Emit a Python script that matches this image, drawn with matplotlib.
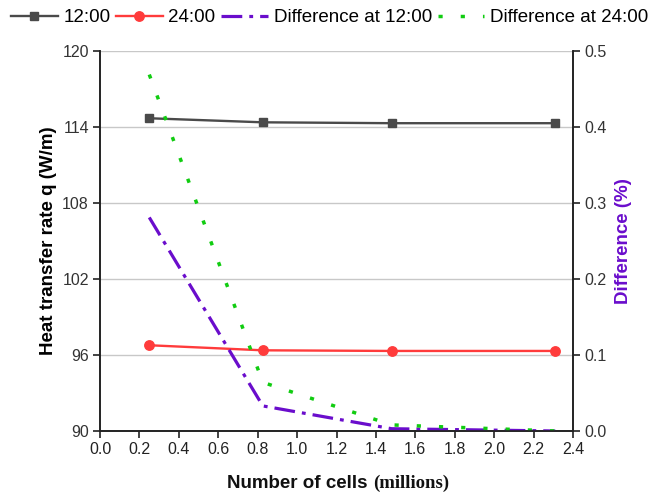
import matplotlib
matplotlib.use("Agg")
import matplotlib.pyplot as plt

plt.rcParams['font.family'] = ['Liberation Sans', 'DejaVu Sans']

cells = [0.25, 0.826, 1.48, 2.31]
q_1200 = [114.69, 114.37, 114.3, 114.3]
q_2400 = [96.77, 96.37, 96.32, 96.32]
diff_1200 = [0.281, 0.033, 0.003, 0.0]
diff_2400 = [0.469, 0.064, 0.008, 0.0]

xticks = [0.0, 0.2, 0.4, 0.6, 0.8, 1.0, 1.2, 1.4, 1.6, 1.8, 2.0, 2.2, 2.4]
yticks = [90, 96, 102, 108, 114, 120]
y2ticks = [0.0, 0.1, 0.2, 0.3, 0.4, 0.5]

c_gray = '#4a4a4a'
c_red = '#ff3b3b'
c_purple = '#6a0dcc'
c_green = '#11cc11'

fig = plt.figure(figsize=(6.59, 4.92), dpi=100)
ax = fig.add_axes([100/659, 1-431/492, 473/659, 380/492])
ax2 = ax.twinx()

l1, = ax.plot(cells, q_1200, color=c_gray, lw=1.7, marker='s', ms=6.2, label='12:00')
l2, = ax.plot(cells, q_2400, color=c_red, lw=1.7, marker='o', ms=6.8, label='24:00')
l3, = ax2.plot(cells, diff_1200, color=c_purple, lw=2.3, linestyle=(0, (6.5, 2.2, 1.2, 2.2)),
               label='Difference at 12:00')
l4, = ax2.plot(cells, diff_2400, color=c_green, lw=2.5, linestyle=(0, (1.2, 5.2)),
               label='Difference at 24:00')

ax.set_xlim(0, 2.4)
ax.set_ylim(90, 120)
ax2.set_ylim(0, 0.5)
ax.set_xticks(xticks)
ax.set_xticklabels([f'{v:.1f}' for v in xticks])
ax.set_yticks(yticks)
ax.set_yticklabels([str(v) for v in yticks])
ax2.set_yticks(y2ticks)
ax2.set_yticklabels([f'{v:.1f}' for v in y2ticks])

ax.grid(axis='y', color='#c8c8c8', lw=1)
ax.set_axisbelow(True)
for a in (ax, ax2):
    a.spines['top'].set_visible(False)
    for s in ('left', 'right', 'bottom'):
        a.spines[s].set_color('#222222')
        a.spines[s].set_linewidth(1.2)
    a.tick_params(direction='out', length=5, width=1.2, labelsize=11.5, colors='#222222',
                  pad=3)
ax.tick_params(axis='y', labelcolor='#333333')
ax2.tick_params(axis='y', labelcolor='#333333')

ax.set_ylabel('Heat transfer rate q (W/m)', fontsize=13.5, fontweight='bold', labelpad=4)
ax2.set_ylabel('Difference (%)', fontsize=13.5, fontweight='bold', color=c_purple, labelpad=6)

xsplit = 373 / 659
fig.text(xsplit, 1 - 488 / 492, 'Number of cells ', ha='right', va='baseline',
         fontsize=13.5, fontweight='bold', color='#111111')
fig.text(xsplit, 1 - 488 / 492, '(millions)', ha='left', va='baseline',
         fontsize=13.5, fontweight='bold', family='Liberation Serif', color='#111111')

fig.legend(handles=[l1, l2, l3, l4], loc='upper center', bbox_to_anchor=(0.5, 1.0), ncol=4,
           frameon=False, fontsize=13.5, handlelength=2.5, handletextpad=0.3, columnspacing=0.3,
           borderaxespad=0.1)

fig.savefig('out.png', dpi=100)
